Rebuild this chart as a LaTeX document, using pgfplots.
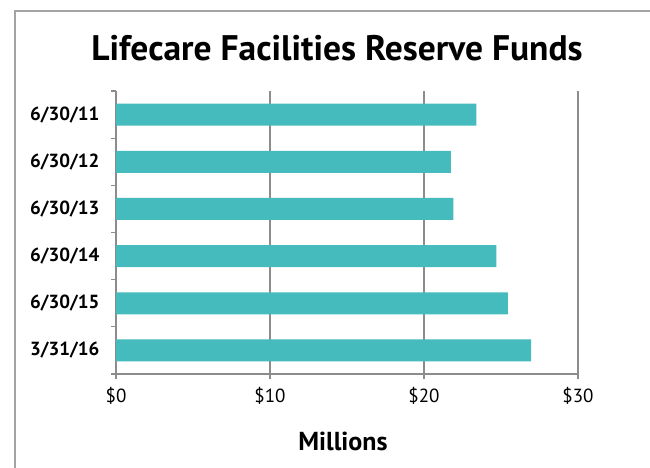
\documentclass[border=0pt]{standalone}
\usepackage{fontspec}
\setmainfont{PT Sans}
\usepackage{pgfplots}
\pgfplotsset{compat=1.18}
\definecolor{barc}{RGB}{69,187,189}
\definecolor{axc}{RGB}{140,140,140}
\begin{document}
\begin{tikzpicture}[x=1pt,y=1pt]
\useasboundingbox (0,0) rectangle (650,467);
\draw[color=axc!80, line width=1.5pt] (15,-5) -- (15,456) -- (655,456);
\node[font=\bfseries\fontsize{35.5}{40}\selectfont] at (337,419) {Lifecare Facilities Reserve Funds};
\begin{axis}[at={(116pt,93pt)}, anchor=south west, scale only axis,
  width=462pt, height=283pt,
  xmin=0, xmax=30, ymin=-0.5, ymax=5.5, y dir=reverse,
  axis x line=bottom, axis y line=left,
  axis line style={-, axc, line width=1.5pt},
  xtick={0,10,20,30}, xticklabels={\$0,\$10,\$20,\$30},
  ytick={-0.5,0.5,1.5,2.5,3.5,4.5,5.5}, y tick label as interval,
  yticklabels={6/30/11,6/30/12,6/30/13,6/30/14,6/30/15,3/31/16},
  tick style={axc, line width=1.2pt}, major tick length=5pt, tick align=outside,
  xmajorgrids, grid style={axc, line width=1.5pt},
  x tick label style={font=\fontsize{19}{22}\selectfont, yshift=-5pt},
  y tick label style={font=\bfseries\fontsize{19}{22}\selectfont, xshift=-8pt},
  clip=false,
]
\addplot[xbar, bar width=22pt, fill=barc, draw=none] coordinates {
(23.4,0) (21.75,1) (21.9,2) (24.7,3) (25.45,4) (26.95,5)};
\end{axis}
\node[font=\bfseries\fontsize{26}{30}\selectfont] at (343,26) {Millions};
\end{tikzpicture}
\end{document}
